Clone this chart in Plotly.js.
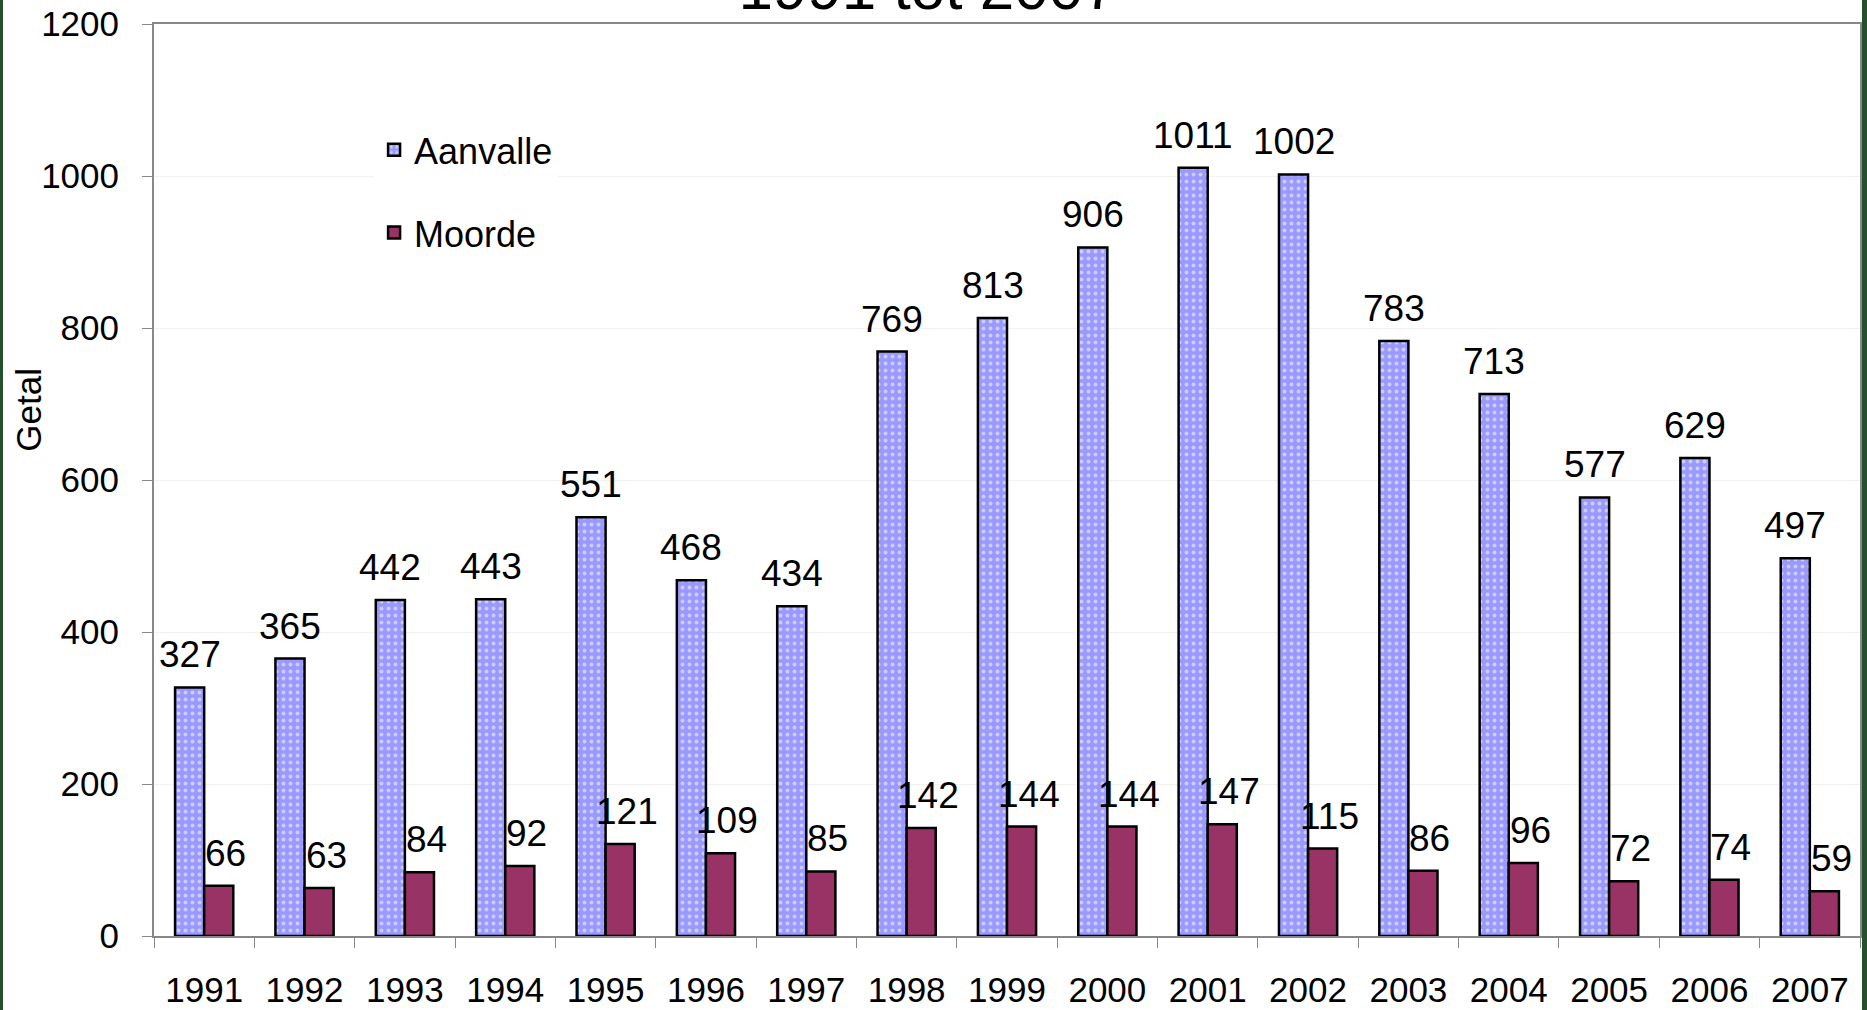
<!DOCTYPE html>
<html>
<head>
<meta charset="utf-8">
<script src="https://cdn.plot.ly/plotly-3.0.1.min.js"></script>
<style>
  html, body { margin: 0; padding: 0; background: #ffffff; overflow: hidden; }
  #chart { position: absolute; left: 0; top: 0; width: 1867px; height: 1010px; }
  .strip { position: absolute; top: 0; height: 1010px; background: #25502d; }
</style>
</head>
<body>
<div id="chart"></div>
<div class="strip" style="left:0;width:3px;"></div>
<div class="strip" style="left:1862px;width:5px;"></div>
<script>
const years = ['1991','1992','1993','1994','1995','1996','1997','1998','1999','2000','2001','2002','2003','2004','2005','2006','2007'];
const aanvalle = [327,365,442,443,551,468,434,769,813,906,1011,1002,783,713,577,629,497];
const moorde = [66,63,84,92,121,109,85,142,144,144,147,115,86,96,72,74,59];
const seriesNames = ['Aanvalle', 'Moorde'];
const chartTitle = '1991 tot 2007';
const yTitle = 'Getal';
const yTicks = [0,200,400,600,800,1000,1200];

const FONT = 'Liberation Sans, Arial, sans-serif';
const LABEL_FONT = {family: FONT, size: 37, color: '#000'};
const BAR_HALF_PX = 14.5;   // half width of one bar in pixels (group offset)
const MOORDE_LABEL_NUDGE = 7; // Moorde labels sit slightly right of their bar
const LABEL_LIFT_PX = 10;   // gap between bar top and its value label

const traces = [
  {
    type: 'bar', name: seriesNames[0], x: years, y: aanvalle,
    legendgroup: 'a',
    marker: {
      color: '#9999ff',
      line: {color: '#000', width: 2.5},
      pattern: {shape: '.', fgcolor: '#ffffff', bgcolor: '#9999ff', size: 7, solidity: 0.25, fillmode: 'overlay'}
    },
    hoverinfo: 'x+y'
  },
  {
    type: 'bar', name: seriesNames[1], x: years, y: moorde,
    legendgroup: 'b',
    marker: {color: '#993366', line: {color: '#000', width: 2.5}},
    hoverinfo: 'x+y'
  }
];

// value labels: placed on the category index of each year, shifted to its bar in the group
function valueLabels(values, shift) {
  return values.map((v, i) => ({
    x: i, y: v, xref: 'x', yref: 'y',
    text: String(v), showarrow: false,
    xanchor: 'center', yanchor: 'bottom',
    xshift: shift, yshift: LABEL_LIFT_PX,
    font: LABEL_FONT
  }));
}

const layout = {
  width: 1867, height: 1010,
  margin: {l: 154, r: 7, t: 24, b: 74, pad: 0},
  paper_bgcolor: '#ffffff', plot_bgcolor: '#ffffff',
  font: {family: FONT, size: 35, color: '#000'},
  title: {
    text: chartTitle, font: {family: FONT, size: 62, color: '#000'},
    xref: 'paper', x: 0.4537, xanchor: 'center',
    yref: 'paper', y: 1, yanchor: 'bottom', pad: {t: 0, b: 15}
  },
  barmode: 'group', bargap: 0.42, bargroupgap: 0,
  showlegend: true,
  legend: {
    x: 0.129, y: 0.895, xanchor: 'left', yanchor: 'top',
    bgcolor: '#ffffff', borderwidth: 0,
    font: {family: FONT, size: 36, color: '#000'},
    traceorder: 'grouped', tracegroupgap: 33
  },
  xaxis: {
    type: 'category', categoryorder: 'array', categoryarray: years,
    range: [-0.5, years.length - 0.5], autorange: false,
    tickson: 'boundaries',
    ticks: 'outside', ticklen: 10, tickcolor: '#888', tickwidth: 1,
    showline: true, linecolor: '#888', linewidth: 2, mirror: true,
    showgrid: false, zeroline: false,
    tickfont: {family: FONT, size: 35, color: '#000'},
    ticklabelstandoff: 22
  },
  yaxis: {
    range: [0, 1200], autorange: false, tickvals: yTicks, ticktext: yTicks.map(String),
    ticks: 'outside', ticklen: 10, tickcolor: '#888', tickwidth: 1,
    showline: true, linecolor: '#888', linewidth: 2, mirror: true,
    showgrid: true, gridcolor: '#f2f2f2', gridwidth: 1, zeroline: false,
    tickfont: {family: FONT, size: 35, color: '#000'},
    ticklabelstandoff: 16
  },
  annotations: [
    {
      text: yTitle, xref: 'paper', yref: 'paper', x: -0.0733, y: 0.577,
      xanchor: 'center', yanchor: 'middle', textangle: -90, showarrow: false,
      font: {family: FONT, size: 35, color: '#000'}
    }
  ].concat(valueLabels(aanvalle, -BAR_HALF_PX), valueLabels(moorde, BAR_HALF_PX + MOORDE_LABEL_NUDGE))
};

Plotly.newPlot('chart', traces, layout, {displayModeBar: false, staticPlot: true});
</script>
</body>
</html>
